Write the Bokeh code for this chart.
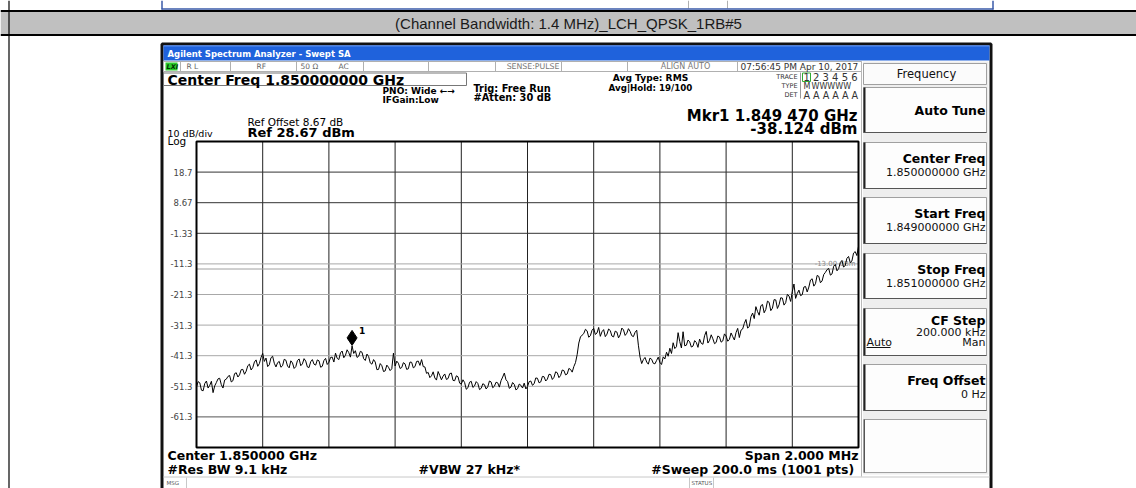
import numpy as np
from bokeh.plotting import figure
from bokeh.models import Range1d
from bokeh.core.properties import value
from bokeh.embed import file_html
from bokeh.resources import INLINE

# ---------------- data ----------------
HEADER = "(Channel Bandwidth: 1.4 MHz)_LCH_QPSK_1RB#5"
F_START = 1849.0   # MHz
F_STOP = 1851.0    # MHz
N_DIV = 10
REF_LEVEL = 28.67  # dBm
DB_PER_DIV = 10.0
DISPLAY_LINE = -13.0
MKR_FREQ = 1849.470
MKR_DB = -38.124
Y_TICK_LABELS = ["18.7", "8.67", "-1.33", "-11.3", "-21.3", "-31.3", "-41.3", "-51.3", "-61.3"]
TRACE_DB = [
    -51.5, -49.8, -50.2, -52.6, -52.8, -50.4, -49.6, -51.9, -51.0, -49.7,
    -53.4, -51.2, -50.1, -48.9, -48.7, -50.8, -51.9, -49.3, -49.0, -48.1,
    -47.8, -49.9, -49.5, -47.2, -46.9, -48.3, -47.6, -45.9, -45.8, -47.4,
    -46.4, -44.6, -44.1, -46.0, -45.2, -43.4, -42.7, -44.8, -43.9, -41.9,
    -40.6, -43.2, -42.1, -44.9, -44.3, -42.0, -41.5, -43.8, -45.0, -43.6,
    -43.2, -45.1, -44.6, -42.5, -42.8, -44.7, -45.3, -43.0, -43.7, -45.5,
    -44.9, -42.9, -42.4, -44.6, -44.0, -42.3, -43.1, -45.0, -45.2, -43.3,
    -42.6, -44.1, -44.4, -42.7, -43.0, -45.1, -44.8, -42.9, -42.2, -44.2,
    -43.5, -41.9, -41.8, -43.4, -40.5, -42.2, -42.6, -40.4, -39.8, -42.0,
    -41.2, -39.4, -40.3, -41.8, -38.124, -40.6, -39.7, -41.9, -41.5, -39.9,
    -40.2, -42.3, -42.9, -40.8, -41.6, -43.7, -44.1, -42.6, -43.4, -45.9,
    -45.8, -43.9, -44.6, -46.5, -46.3, -44.4, -45.1, -46.2, -45.6, -40.5,
    -44.7, -43.1, -43.8, -45.5, -45.2, -43.6, -44.0, -45.8, -45.6, -43.4,
    -43.5, -45.3, -44.9, -43.2, -43.1, -44.5, -42.6, -44.9, -45.0, -47.1,
    -46.8, -48.5, -47.9, -46.6, -48.6, -49.3, -46.5, -47.8, -49.2, -48.0,
    -47.3, -49.1, -48.8, -47.2, -47.0, -49.4, -49.5, -47.9, -48.2, -50.3,
    -50.6, -49.2, -50.1, -52.3, -51.8, -50.0, -49.7, -51.7, -51.2, -49.8,
    -50.4, -52.4, -52.0, -50.5, -50.8, -52.2, -51.5, -49.6, -49.9, -51.8,
    -51.3, -50.0, -50.2, -51.6, -49.5, -48.3, -47.0, -49.2, -49.8, -52.0,
    -51.6, -50.1, -50.7, -52.5, -52.1, -50.6, -51.0, -51.9, -50.3, -52.2,
    -51.4, -49.8, -49.6, -51.0, -50.5, -48.6, -48.7, -50.2, -49.9, -48.1,
    -48.2, -49.6, -49.0, -47.4, -47.5, -49.1, -48.4, -46.6, -46.9, -48.5,
    -47.8, -46.0, -46.2, -47.6, -47.3, -45.5, -45.8, -46.7, -44.9, -43.6,
    -41.0, -37.2, -35.2, -34.6, -34.1, -32.7, -33.2, -35.3, -34.8, -33.0,
    -32.4, -34.4, -33.9, -32.1, -35.0, -33.5, -32.8, -35.1, -34.3, -32.6,
    -33.1, -34.9, -35.2, -33.3, -33.6, -35.5, -34.5, -32.3, -32.9, -34.7,
    -34.0, -32.5, -33.4, -34.8, -35.1, -33.7, -33.0, -37.9, -41.8, -43.9,
    -42.6, -41.9, -43.4, -44.1, -42.1, -42.5, -43.8, -44.0, -42.9, -41.8,
    -43.5, -44.2, -41.7, -42.4, -40.2, -41.5, -38.9, -40.6, -37.1, -39.0,
    -38.4, -33.8, -36.7, -38.8, -33.5, -38.1, -37.9, -36.2, -36.8, -38.5,
    -38.2, -36.4, -37.0, -38.6, -35.9, -37.3, -37.6, -34.8, -33.4, -37.2,
    -36.3, -34.5, -35.8, -37.4, -37.0, -34.9, -35.2, -36.9, -36.5, -34.2,
    -34.9, -36.6, -36.0, -33.9, -35.1, -36.2, -33.8, -32.4, -35.4, -33.0,
    -32.6, -30.8, -29.5, -32.3, -31.8, -28.6, -27.4, -29.2, -25.3, -26.9,
    -28.1, -25.0, -24.6, -27.3, -26.2, -23.5, -23.9, -26.6, -25.8, -23.0,
    -23.1, -25.9, -24.7, -22.4, -22.5, -24.8, -24.0, -21.3, -21.8, -23.6,
    -20.4, -17.9, -22.6, -21.0, -19.9, -21.7, -21.4, -18.9, -18.7, -20.5,
    -18.9, -16.6, -16.2, -18.6, -17.8, -15.1, -15.4, -17.5, -16.9, -14.8,
    -14.1, -13.2, -12.8, -15.0, -14.6, -12.1, -11.5, -13.6, -12.9, -10.9,
    -10.2, -12.4, -11.8, -9.5, -8.9, -10.9, -10.4, -7.8, -7.3, -8.6,
    -5.6,
]
TRACE_FREQ = np.linspace(F_START, F_STOP, len(TRACE_DB))

SOFTKEYS = [
    ("Auto Tune", "", ""),
    ("Center Freq", "1.850000000 GHz", ""),
    ("Start Freq", "1.849000000 GHz", ""),
    ("Stop Freq", "1.851000000 GHz", ""),
    ("CF Step", "200.000 kHz", "auto"),
    ("Freq Offset", "0 Hz", ""),
]

# ---------------- layout (page pixels) ----------------
PG_X0, PG_X1, PG_Y0, PG_Y1 = 0, 1136, 0, 488
PX_L, PX_R, PY_T, PY_B = 196, 858, 141, 447
F_PER_PX = (F_STOP - F_START) / (PX_R - PX_L)
DB_PER_PX = (N_DIV * DB_PER_DIV) / (PY_B - PY_T)
FR0 = F_START - (PX_L - PG_X0) * F_PER_PX
FR1 = F_STOP + (PG_X1 - PX_R) * F_PER_PX
DB_HI = REF_LEVEL + (PY_T - PG_Y0) * DB_PER_PX
DB_BOTTOM = REF_LEVEL - N_DIV * DB_PER_DIV
DB_LO = DB_BOTTOM - (PG_Y1 - PY_B) * DB_PER_PX

p = figure(width=PG_X1 - PG_X0, height=PG_Y1 - PG_Y0,
           x_range=Range1d(PG_X0, PG_X1), y_range=Range1d(PG_Y1, PG_Y0),
           output_backend="svg", toolbar_location=None, min_border=0,
           x_axis_location=None, y_axis_location=None)
p.extra_x_ranges = {"f": Range1d(FR0, FR1)}
p.extra_y_ranges = {"db": Range1d(DB_LO, DB_HI)}
p.grid.visible = False
p.outline_line_color = None
p.background_fill_color = "white"
p.border_fill_color = "white"

DV = "DejaVu Sans"


def box(x0, y0, x1, y1, fill="white", line="#888888", lw=1.0):
    p.quad(left=[x0], right=[x1], top=[y0], bottom=[y1], fill_color=fill,
           line_color=line, line_width=lw)


def seg(x0, y0, x1, y1, color="#000000", lw=1.0):
    p.segment(x0=[x0], y0=[y0], x1=[x1], y1=[y1], line_color=color, line_width=lw)


def txt(x, y, s, size, bold=False, align="left", color="#000000", font=DV,
        baseline="middle", italic=False):
    style = "bold" if bold else "normal"
    if italic:
        style = "bold italic" if bold else "italic"
    p.text(x=[x], y=[y], text=[s], text_font=value(font), text_font_size=f"{size}px",
           text_font_style=style, text_align=align, text_baseline=baseline,
           text_color=color)


# ---------------- document table ----------------
seg(161.5, 0, 161.5, 9, "#3a5aa8", 1.5)
seg(992.5, 0, 992.5, 9, "#3a5aa8", 1.5)
seg(688, 0, 688, 8, "#b0b0b0", 1)
seg(727, 0, 727, 8, "#b0b0b0", 1)
seg(161, 8.5, 993, 8.5, "#3a5aa8", 1.5)
seg(PG_X0, 10.5, PG_X1, 10.5, "#000000", 2)
box(PG_X0, 11.5, PG_X1, 33.5, fill="#c0c0c0", line=None)
seg(PG_X0, 34.5, PG_X1, 34.5, "#000000", 2)
seg(8.5, PG_Y0, 8.5, PG_Y1, "#000000", 1.2)
txt(568, 22.5, HEADER, 15, font="Liberation Sans", align="center", color="#1a1a1a")

# ---------------- analyzer window ----------------
box(161.5, 43.5, 990.5, 520, fill="white", line="#111111", lw=3)
box(163, 45, 989, 60, fill="#1f62dc", line=None)
seg(163, 45.5, 989, 45.5, "#5b8ff0", 1)
txt(167, 53.5, "Agilent Spectrum Analyzer - Swept SA", 8.5, bold=True, color="white")

# status row
box(163, 61, 861, 71, fill="white", line="#b0b0b0")
for sx in [180, 230, 296, 363, 428, 495, 561, 627, 737]:
    seg(sx, 61, sx, 71, "#b0b0b0", 1)
box(165, 62, 177, 70, fill="#2ecc2e", line=None)
txt(166, 66.5, "LXI", 6.5, bold=True, italic=True, color="#003300")
txt(186, 66, "R L", 7.5, color="#666666")
txt(256, 66, "RF", 7.5, color="#666666")
txt(300, 66, "50 Ω", 7.5, color="#666666")
txt(338, 66, "AC", 7.5, color="#666666")
txt(559, 66, "SENSE:PULSE", 7.8, color="#777777", align="right")
txt(685, 66, "ALIGN AUTO", 8, color="#777777", align="center")
txt(740, 66, "07:56:45 PM Apr 10, 2017", 9, color="#333333")

# center freq box & settings
box(163, 72.5, 466, 85, fill="white", line="#777777")
txt(167, 79, "Center Freq 1.850000000 GHz", 14, bold=True)
txt(382, 90, "PNO: Wide \u2190\u2192", 9, bold=True)
txt(382, 99.5, "IFGain:Low", 9, bold=True)
txt(473, 87.5, "Trig: Free Run", 9.8, bold=True)
txt(473, 97, "#Atten: 30 dB", 9.8, bold=True)
txt(650, 77, "Avg Type: RMS", 9.1, bold=True, align="center")
txt(650, 87, "Avg|Hold: 19/100", 8.7, bold=True, align="center")

# trace info block
seg(800, 72, 800, 98, "#999999", 1)
box(802, 72.5, 810, 81, fill="white", line="#33aa33")
txt(797, 76.5, "TRACE", 6.5, color="#333333", align="right")
txt(797, 85.5, "TYPE", 6.5, color="#333333", align="right")
txt(797, 94.5, "DET", 6.5, color="#333333", align="right")
txt(803, 77, "1 2 3 4 5 6", 10, color="#333333")
txt(803, 86, "M", 8, color="#333333")
txt(811, 86, "WWWWW", 8, color="#333333")
txt(803, 95, "A A A A A A", 9.6, color="#333333")

# marker readout & reference info
txt(857, 115, "Mkr1 1.849 470 GHz", 15, bold=True, align="right")
txt(857, 128.5, "-38.124 dBm", 15, bold=True, align="right")
txt(247, 121, "Ref Offset 8.67 dB", 10.5)
txt(247, 131.5, "Ref 28.67 dBm", 13, bold=True)
txt(167, 132.5, "10 dB/div", 9.5)
txt(167, 140, "Log", 10.5)

# ---------------- graticule (through data ranges) ----------------
vx = [F_START + k * (F_STOP - F_START) / N_DIV for k in range(N_DIV + 1)]
p.segment(x0=vx, x1=vx, y0=[DB_BOTTOM] * len(vx), y1=[REF_LEVEL] * len(vx),
          x_range_name="f", y_range_name="db", line_color="#222222", line_width=1)
hy = [REF_LEVEL - k * DB_PER_DIV for k in range(1, N_DIV)]
hcol = ["#333333", "#333333", "#333333", "#a8a8a8", "#a8a8a8", "#a8a8a8", "#a8a8a8", "#a8a8a8", "#555555"]
p.segment(x0=[F_START] * len(hy), x1=[F_STOP] * len(hy), y0=hy, y1=hy,
          x_range_name="f", y_range_name="db", line_color=hcol, line_width=1)
p.segment(x0=[F_START], x1=[F_STOP], y0=[DISPLAY_LINE], y1=[DISPLAY_LINE],
          x_range_name="f", y_range_name="db", line_color="#a0a0a0", line_width=1)
p.text(x=[F_STOP], y=[DISPLAY_LINE], text=["-13.00 dBm"], x_range_name="f", y_range_name="db",
       text_font=value(DV), text_font_size="7px", text_color="#8a8a8a",
       text_align="right", text_baseline="bottom", x_offset=-3, y_offset=-1)
p.quad(left=[F_START], right=[F_STOP], top=[REF_LEVEL], bottom=[DB_BOTTOM],
       x_range_name="f", y_range_name="db", fill_color=None, line_color="#000000", line_width=2)

# y tick labels
p.text(x=[PX_L - 4] * len(hy), y=hy, text=Y_TICK_LABELS, y_range_name="db",
       text_font=value(DV), text_font_size="8.5px", text_color="#444444",
       text_align="right", text_baseline="middle")

# trace
p.line(TRACE_FREQ, TRACE_DB, x_range_name="f", y_range_name="db",
       line_color="#000000", line_width=1.0)

# marker
mk_y = MKR_DB + 8 * DB_PER_PX
p.scatter([MKR_FREQ], [mk_y], marker="diamond", size=15, x_range_name="f", y_range_name="db",
          fill_color="#000000", line_color="#000000")
p.text(x=[MKR_FREQ], y=[mk_y], text=["1"], x_range_name="f", y_range_name="db",
       text_font=value(DV), text_font_size="9px", text_font_style="bold",
       text_align="left", text_baseline="middle", x_offset=7, y_offset=-7)

# bottom annotations
txt(167, 455, "Center 1.850000 GHz", 12.5, bold=True)
txt(167, 469, "#Res BW 9.1 kHz", 12.5, bold=True)
txt(418, 469, "#VBW 27 kHz*", 12.5, bold=True)
txt(858, 455, "Span 2.000 MHz", 12.5, bold=True, align="right")
txt(858, 469, "#Sweep  200.0 ms (1001 pts)", 12.5, bold=True, align="right")

# msg row
seg(163, 476.5, 989, 476.5, "#c8c8c8", 1)
seg(186, 477, 186, 490, "#c8c8c8", 1)
seg(689, 477, 689, 490, "#c8c8c8", 1)
seg(713, 477, 713, 490, "#c8c8c8", 1)
txt(166, 482.5, "MSG", 5.5, color="#555555")
txt(691, 482.5, "STATUS", 5.5, color="#555555")

# ---------------- softkey panel ----------------
seg(861, 61, 861, 476, "#b8b8b8", 1)
box(862.5, 61, 988, 474, fill="#eeeeee", line=None)
box(863, 63, 986, 84, fill="#fbfbfb", line="#a0a0a0")
txt(926, 73.5, "Frequency", 11.5, align="center", color="#111111")
key_tops = [87, 142, 197, 253, 308, 364]
key_bots = [132, 188, 243, 298, 355, 410]
for (title, sub, extra), kt, kb in zip(SOFTKEYS, key_tops, key_bots):
    box(863, kt, 986, kb, fill="#fdfdfd", line="#a0a0a0")
    seg(864, kt, 864, kb, "#222222", 2)
    seg(863, kb, 986, kb, "#555555", 1)
    if not sub:
        txt(985, (kt + kb) / 2, title, 12.5, bold=True, align="right")
    elif extra:
        txt(985, kt + 12, title, 12.5, bold=True, align="right")
        txt(985, kt + 24, sub, 11, align="right", color="#111111")
        txt(866, kt + 34, "Auto", 11, color="#111111")
        seg(866, kt + 39, 890, kt + 39, "#111111", 1)
        txt(985, kt + 34, "Man", 11, align="right", color="#111111")
    else:
        txt(985, kt + 16, title, 12.5, bold=True, align="right")
        txt(985, kt + 30, sub, 11, align="right", color="#111111")
box(863, 419, 986, 472, fill="#fdfdfd", line="#a0a0a0")
seg(864, 419, 864, 472, "#555555", 1)

open("out.html", "w").write(file_html(p, INLINE))
